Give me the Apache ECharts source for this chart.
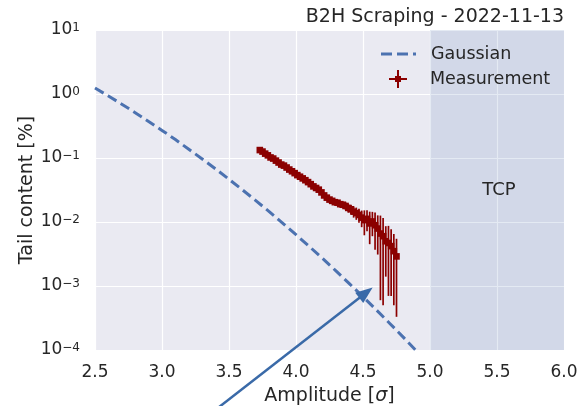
<!DOCTYPE html>
<html>
<head>
<meta charset="utf-8">
<script src="https://cdn.jsdelivr.net/npm/echarts@6/dist/echarts.min.js"></script>
<style>
  html, body { margin: 0; padding: 0; background: #fff; }
  #chart { width: 578px; height: 406px; }
</style>
</head>
<body>
<div id="chart"></div>
<script>
// gaussian tail reference curve [%]
const gaussX = [2.5, 2.6, 2.7, 2.8, 2.9, 3.0, 3.1, 3.2, 3.3, 3.4, 3.5, 3.6, 3.7,
  3.8, 3.9, 4.0, 4.1, 4.2, 4.3, 4.4, 4.5, 4.6, 4.7, 4.8, 4.9];
const gaussY = [1.242, 0.932, 0.693, 0.511, 0.373, 0.270, 0.194, 0.137, 0.0967,
  0.0674, 0.0465, 0.0318, 0.0216, 0.0145, 0.00962, 0.00633, 0.00413, 0.00267,
  0.00171, 0.00108, 0.00068, 0.000422, 0.00026, 0.000159, 0.0000958];

// measured tail content [%] with errors
const measX = [3.73, 3.75, 3.77, 3.79, 3.81, 3.83, 3.85, 3.87, 3.89, 3.91, 3.93,
  3.95, 3.97, 3.99, 4.01, 4.03, 4.05, 4.07, 4.09, 4.11, 4.13, 4.15, 4.17, 4.19,
  4.21, 4.23, 4.25, 4.27, 4.29, 4.31, 4.33, 4.35, 4.37, 4.39, 4.41, 4.43, 4.45,
  4.47, 4.49, 4.51, 4.53, 4.55, 4.57, 4.59, 4.61, 4.63, 4.65, 4.67, 4.69, 4.71,
  4.73, 4.75];
const measY = [0.133, 0.126, 0.117, 0.110, 0.102, 0.098, 0.091, 0.085, 0.079,
  0.076, 0.071, 0.066, 0.062, 0.058, 0.054, 0.051, 0.048, 0.045, 0.042, 0.039,
  0.036, 0.034, 0.032, 0.029, 0.026, 0.024, 0.0224, 0.0214, 0.0204, 0.020,
  0.019, 0.0186, 0.0178, 0.0166, 0.0158, 0.0145, 0.0138, 0.0129, 0.0117,
  0.0107, 0.0112, 0.0095, 0.0102, 0.0089, 0.0079, 0.0066, 0.0060, 0.0050,
  0.0047, 0.0042, 0.0035, 0.0029];
const measErr = [0.004, 0.004, 0.004, 0.0038, 0.0036, 0.0035, 0.0034, 0.0033,
  0.0032, 0.0031, 0.003, 0.003, 0.0029, 0.0028, 0.0028, 0.0027, 0.0026, 0.0026,
  0.0025, 0.0024, 0.0024, 0.0023, 0.0023, 0.0022, 0.0021, 0.0021, 0.002, 0.002,
  0.002, 0.002, 0.0021, 0.0022, 0.0024, 0.0025, 0.0026, 0.0028, 0.003, 0.0032,
  0.0034, 0.0045, 0.004, 0.005, 0.0042, 0.0052, 0.0048, 0.006, 0.0055, 0.0036,
  0.004, 0.0035, 0.003, 0.00257];
const xBinHalf = 0.01;

const tcpRange = [5.0, 6.0];
const arrowFrom = [3.30, 8.0e-6];
const arrowTo = [4.572, 9.5e-4];

const textColor = '#262626';
const font = 'DejaVu Sans';
const red = '#8b0000';

const chart = echarts.init(document.getElementById('chart'));

function renderErr(params, api) {
  const x = api.value(0), y = api.value(1), e = api.value(2);
  const c = api.coord([x, y]);
  const top = api.coord([x, y + e]);
  const bot = api.coord([x, Math.max(y - e, 1e-7)]);
  const l = api.coord([x - xBinHalf, y]);
  const r = api.coord([x + xBinHalf, y]);
  const st = { stroke: red, lineWidth: 1.7 };
  return {
    type: 'group',
    children: [
      { type: 'line', shape: { x1: top[0], y1: top[1], x2: bot[0], y2: bot[1] }, style: st },
      { type: 'line', shape: { x1: l[0], y1: l[1], x2: r[0], y2: r[1] }, style: st },
      { type: 'rect', shape: { x: c[0] - 3.3, y: c[1] - 3.3, width: 6.6, height: 6.6 }, style: { fill: red } }
    ]
  };
}

function powLabel(v) {
  const p = Math.round(Math.log10(v));
  return '{b|10}{s|' + (p < 0 ? '\u2212' + (-p) : p) + '}';
}

chart.setOption({
  animation: false,
  textStyle: { fontFamily: font },
  title: {
    text: 'B2H Scraping - 2022-11-13',
    right: 14, top: 8, padding: 0,
    textStyle: { fontSize: 19, fontWeight: 'normal', color: textColor, fontFamily: font }
  },
  legend: [
    {
      data: [{ name: 'Gaussian', icon: 'path://M0,0h11v3h-11z M16,0h11v3h-11z M32,0h3v3h-3z' }],
      left: 381, top: 45, padding: 0,
      itemWidth: 35, itemHeight: 3,
      selectedMode: false,
      textStyle: { fontSize: 17.5, color: textColor, padding: [0, 0, 0, 10] }
    },
    {
      data: [{ name: 'Measurement', icon: 'path://M0,8h18v2h-18z M8,0h2v18h-2z M6,6h6v6h-6z' }],
      left: 389, top: 70, padding: 0,
      itemWidth: 18, itemHeight: 18,
      selectedMode: false,
      textStyle: { fontSize: 17.5, color: textColor, padding: [0, 0, 0, 18] }
    }
  ],
  grid: {
    left: 95, right: 14, top: 30, bottom: 56,
    outerBoundsMode: 'none', containLabel: false,
    show: true, backgroundColor: '#eaeaf2', borderWidth: 0
  },
  xAxis: {
    type: 'value', min: 2.5, max: 6.0, interval: 0.5,
    axisLine: { show: false }, axisTick: { show: false },
    axisLabel: { fontSize: 17, color: textColor, margin: 14, formatter: v => v.toFixed(1) },
    splitLine: { lineStyle: { color: '#ffffff', width: 1.2 } },
    name: 'Amplitude [{i|σ}]', nameLocation: 'middle', nameGap: 37, nameMoveOverlap: false,
    nameTextStyle: { fontSize: 19, color: textColor, rich: { i: { fontSize: 19, fontStyle: 'italic', color: textColor } } }
  },
  yAxis: {
    type: 'log', logBase: 10, min: 1e-4, max: 10,
    axisLine: { show: false }, axisTick: { show: false },
    axisLabel: {
      margin: 15, formatter: powLabel,
      rich: {
        b: { fontSize: 17, color: textColor },
        s: { fontSize: 12, color: textColor, verticalAlign: 'top' }
      }
    },
    splitLine: { lineStyle: { color: '#ffffff', width: 1.2 } },
    name: 'Tail content [%]', nameLocation: 'middle', nameGap: 58, nameMoveOverlap: false,
    nameTextStyle: { fontSize: 19, color: textColor }
  },
  series: [
    {
      name: 'Gaussian', type: 'line',
      data: gaussX.map((x, i) => [x, gaussY[i]]),
      showSymbol: false, symbol: 'none',
      itemStyle: { color: '#4c72b0' },
      lineStyle: { color: '#4c72b0', width: 3, type: [10, 5] },
      markArea: {
        silent: true,
        itemStyle: { color: 'rgba(76,114,176,0.15)' },
        label: { show: true, position: 'inside', fontSize: 18, color: textColor, offset: [2, 0] },
        data: [[{ name: 'TCP', xAxis: tcpRange[0] }, { xAxis: tcpRange[1] }]]
      }
    },
    {
      name: 'Measurement', type: 'custom',
      renderItem: renderErr,
      itemStyle: { color: red },
      encode: { x: 0, y: 1 },
      data: measX.map((x, i) => [x, measY[i], measErr[i]]),
      z: 3
    }
  ]
});

// annotation arrow, placed in data coordinates
const p0 = chart.convertToPixel({ xAxisIndex: 0, yAxisIndex: 0 }, arrowFrom);
const p1 = chart.convertToPixel({ xAxisIndex: 0, yAxisIndex: 0 }, arrowTo);
const dx = p1[0] - p0[0], dy = p1[1] - p0[1];
const len = Math.sqrt(dx * dx + dy * dy);
const ux = dx / len, uy = dy / len;
const headL = 17, headW = 6.5;
const bx = p1[0] - ux * headL, by = p1[1] - uy * headL;
chart.setOption({
  graphic: [
    {
      type: 'line', z: 100,
      shape: { x1: p0[0], y1: p0[1], x2: bx + ux * 2, y2: by + uy * 2 },
      style: { stroke: '#3a6aa8', lineWidth: 2.5 }
    },
    {
      type: 'polygon', z: 100,
      shape: { points: [[p1[0], p1[1]], [bx - uy * headW, by + ux * headW], [bx + uy * headW, by - ux * headW]] },
      style: { fill: '#3a6aa8' }
    }
  ]
});
</script>
</body>
</html>
